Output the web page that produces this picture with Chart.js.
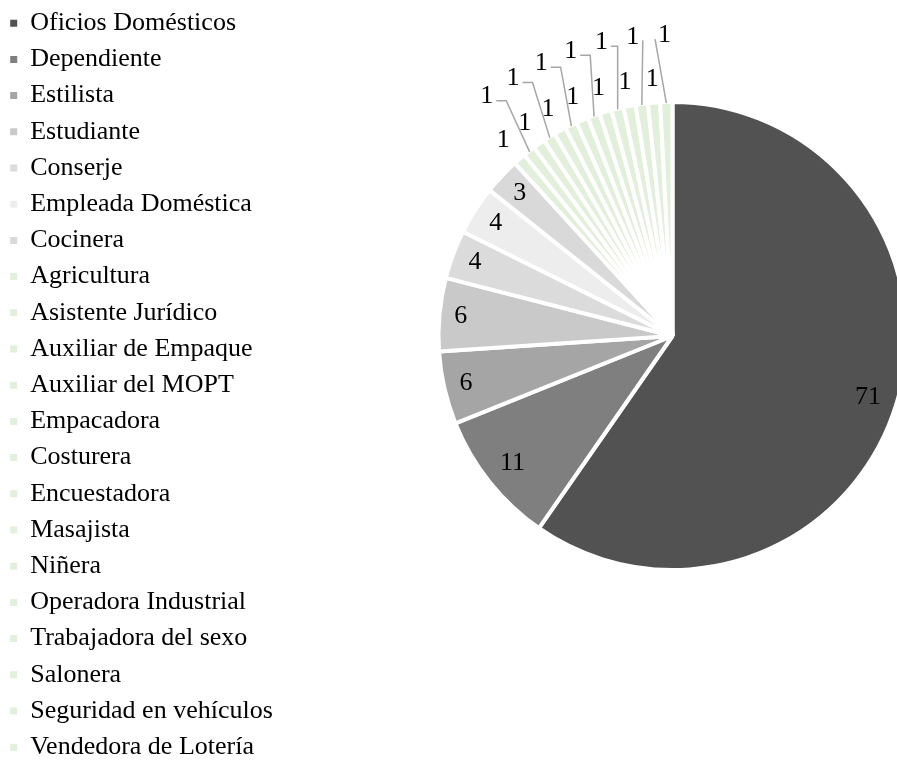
<!DOCTYPE html>
<html>
<head>
<meta charset="utf-8">
<script src="https://cdn.jsdelivr.net/npm/chart.js@4.4.0/dist/chart.umd.min.js"></script>
<style>
    html, body { margin: 0; padding: 0; background: #ffffff; overflow: hidden; }
    #wrap { width: 897px; height: 800px; }
</style>
</head>
<body>
<div id="wrap"><canvas id="ocupacionChart" width="897" height="800"></canvas></div>
<script>
const categories = [
    'Oficios Domésticos', 'Dependiente', 'Estilista', 'Estudiante', 'Conserje',
    'Empleada Doméstica', 'Cocinera', 'Agricultura', 'Asistente Jurídico',
    'Auxiliar de Empaque', 'Auxiliar del MOPT', 'Empacadora', 'Costurera',
    'Encuestadora', 'Masajista', 'Niñera', 'Operadora Industrial',
    'Trabajadora del sexo', 'Salonera', 'Seguridad en vehículos', 'Vendedora de Lotería'
];
const counts = [71, 11, 6, 6, 4, 4, 3, 1, 1, 1, 1, 1, 1, 1, 1, 1, 1, 1, 1, 1, 1];

// greys for the big groups, pale green for the single cases
const greyShades = ['#525252', '#7f7f7f', '#a5a5a5', '#c9c9c9', '#dbdbdb', '#ededed', '#d9d9d9'];
const paleGreen = '#e2efda';
const sliceColors = categories.map((c, i) => greyShades[i] || paleGreen);

const FONT_FAMILY = '"Liberation Serif", "Times New Roman", serif';
const FONT_SIZE = 26;

/* --- keep the pie where the original sits (partly off the right edge) --- */
const pieFrame = {
    id: 'pieFrame',
    afterLayout(chart) {
        const cx = 672.5, cy = 336, half = 240;
        Object.assign(chart.chartArea, {
            left: cx - half, right: cx + half,
            top: cy - half, bottom: cy + half,
            width: half * 2, height: half * 2
        });
    }
};

/* --- value labels: inside when they fit, else outside with leader lines --- */
const valueLabels = {
    id: 'valueLabels',
    afterDatasetsDraw(chart) {
        const ctx = chart.ctx;
        const meta = chart.getDatasetMeta(0);
        const values = chart.data.datasets[0].data;
        const digitH = FONT_SIZE * 0.68;
        const outside = [];

        ctx.save();
        ctx.font = FONT_SIZE + 'px ' + FONT_FAMILY;
        ctx.fillStyle = '#000000';
        ctx.textAlign = 'center';
        ctx.textBaseline = 'middle';

        meta.data.forEach((arc, i) => {
            const p = arc.getProps(['x', 'y', 'startAngle', 'endAngle', 'outerRadius'], true);
            const R = p.outerRadius - 2;
            const mid = (p.startAngle + p.endAngle) / 2;
            const ux = Math.cos(mid), uy = Math.sin(mid);
            const text = String(values[i]);
            const w = ctx.measureText(text).width;
            const half = Math.abs(ux) * w / 2 + Math.abs(uy) * digitH / 2;
            const dIn = R - 12 - half;
            if ((p.endAngle - p.startAngle) * dIn > w + 8) {
                ctx.fillText(text, p.x + ux * dIn, p.y + uy * dIn);
            } else {
                outside.push({ text, w, half, ux, uy, x: p.x, y: p.y, R });
            }
        });

        const placed = [];
        const hits = (b) => placed.some(q =>
            Math.abs(q.cx - b.cx) < (q.w + b.w) / 2 + 3 && Math.abs(q.cy - b.cy) < digitH + 2);

        outside.forEach(o => {
            const near = o.R + 16 + o.half;
            const rings = [near, near + 44, near + 64, near + 84];
            let d = rings[rings.length - 1];
            for (const r of rings) {
                const b = { cx: o.x + o.ux * r, cy: o.y + o.uy * r, w: o.w };
                if (!hits(b)) { d = r; break; }
            }
            const lx = o.x + o.ux * d, ly = o.y + o.uy * d;
            placed.push({ cx: lx, cy: ly, w: o.w });
            ctx.fillText(o.text, lx, ly);

            if (d > near + 5) {
                const ex = o.x + o.ux * (o.R + 1), ey = o.y + o.uy * (o.R + 1);
                let sx, sy = ly + 4, dir = 0;
                if (ex > lx + o.w / 2) { sx = lx + o.w / 2 + 3; dir = 1; }
                else if (ex < lx - o.w / 2) { sx = lx - o.w / 2 - 3; dir = -1; }
                else { sx = lx - o.w / 2 - 3; dir = 0; }
                const bx = sx + dir * Math.min(10, Math.abs(ex - sx));
                ctx.beginPath();
                ctx.moveTo(sx, sy);
                ctx.lineTo(bx, sy);
                ctx.lineTo(ex, ey);
                ctx.strokeStyle = '#a6a6a6';
                ctx.lineWidth = 1.5;
                ctx.stroke();
            }
        });
        ctx.restore();
    }
};

const ctx = document.getElementById('ocupacionChart').getContext('2d');
new Chart(ctx, {
    type: 'pie',
    data: {
        labels: categories,
        datasets: [{
            data: counts,
            backgroundColor: sliceColors,
            borderColor: '#ffffff',
            borderWidth: 4,
            radius: 234,
            clip: false
        }]
    },
    options: {
        responsive: false,
        animation: false,
        layout: { padding: 0 },
        plugins: {
            legend: {
                position: 'left',
                align: 'start',
                labels: {
                    color: '#000000',
                    boxWidth: 7,
                    boxHeight: 7,
                    padding: 10.2,
                    font: { family: FONT_FAMILY, size: FONT_SIZE },
                    generateLabels(chart) {
                        const items = Chart.overrides.doughnut.plugins.legend.labels.generateLabels(chart);
                        return items.map(item => Object.assign(item, { lineWidth: 0 }));
                    }
                }
            },
            tooltip: { enabled: false }
        }
    },
    plugins: [pieFrame, valueLabels]
});
</script>
</body>
</html>
